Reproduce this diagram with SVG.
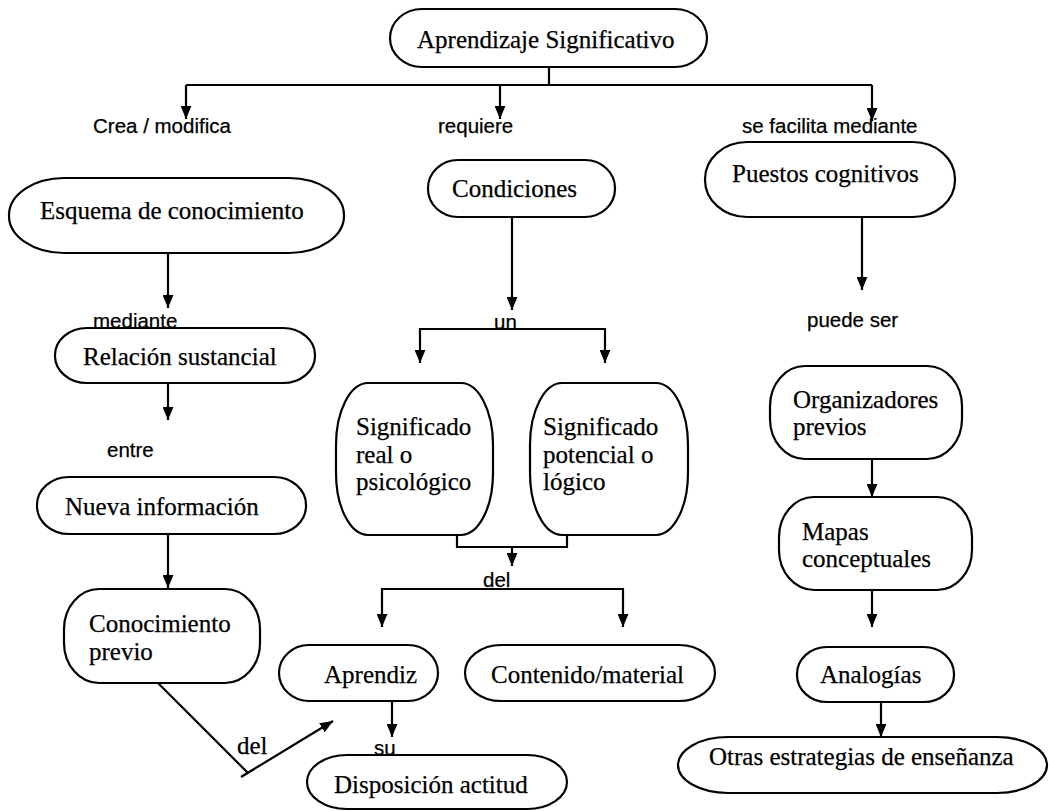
<svg xmlns="http://www.w3.org/2000/svg" width="1049" height="811" viewBox="0 0 1049 811">
<style>
.box{fill:#fff;stroke:#000;stroke-width:2.2}
.t{font-family:"Liberation Serif","Times New Roman",serif;font-size:25px;fill:#000;stroke:#000;stroke-width:0.25}
.l{font-family:"Liberation Sans",Arial,sans-serif;font-size:20.5px;fill:#000;stroke:#000;stroke-width:0.25}
.c{fill:none;stroke:#000;stroke-width:2.2}
</style>
<defs>
<marker id="ah" viewBox="0 0 12 10" refX="12" refY="5" markerWidth="13" markerHeight="11" markerUnits="userSpaceOnUse" orient="auto">
<path d="M0 0 L12 5 L0 10 z" fill="#000"/>
</marker>
</defs>
<rect width="1049" height="811" fill="#fff"/>
<g id="connectors">
<path class="c" d="M549 67 V85 M186 85 H872"/>
<path class="c" d="M186 85 V119" marker-end="url(#ah)"/>
<path class="c" d="M500 85 V119" marker-end="url(#ah)"/>
<path class="c" d="M872 85 V121" marker-end="url(#ah)"/>
<path class="c" d="M168 253 V308" marker-end="url(#ah)"/>
<path class="c" d="M168 383 V420" marker-end="url(#ah)"/>
<path class="c" d="M168 534 V588" marker-end="url(#ah)"/>
<path class="c" d="M158 683 L248 773"/>
<path class="c" d="M241 777 L333 721" marker-end="url(#ah)"/>
<path class="c" d="M512 217 V310" marker-end="url(#ah)"/>
<path class="c" d="M512 329 H420 V363" marker-end="url(#ah)"/>
<path class="c" d="M512 329 H605 V363" marker-end="url(#ah)"/>
<path class="c" d="M457 528 V547 H567 V528"/>
<path class="c" d="M512 547 V566" marker-end="url(#ah)"/>
<path class="c" d="M503 589 H382 V627" marker-end="url(#ah)"/>
<path class="c" d="M503 589 H623 V627" marker-end="url(#ah)"/>
<path class="c" d="M392 701 V737" marker-end="url(#ah)"/>
<path class="c" d="M862 217 V290" marker-end="url(#ah)"/>
<path class="c" d="M872 459 V497" marker-end="url(#ah)"/>
<path class="c" d="M872 590 V627" marker-end="url(#ah)"/>
<path class="c" d="M881 702 V737" marker-end="url(#ah)"/>
</g>
<g id="labels">
<text class="l" x="93" y="133">Crea / modifica</text>
<text class="l" x="438" y="133">requiere</text>
<text class="l" x="742" y="133">se facilita mediante</text>
<text class="l" x="93" y="328">mediante</text>
<text class="l" x="107" y="457">entre</text>
<text class="l" x="494" y="329">un</text>
<text class="l" x="483" y="587">del</text>
<text class="l" x="374" y="755">su</text>
<text class="l" x="807" y="327">puede ser</text>
<text class="t" x="237" y="754">del</text>
</g>
<g id="n-aprendizaje">
<rect class="box" x="390" y="9" width="317" height="58" rx="32" ry="29"/>
<text class="t" x="417" y="48">Aprendizaje Significativo</text>
</g>
<g id="n-esquema">
<rect class="box" x="9" y="178" width="335" height="75" rx="55" ry="37"/>
<text class="t" x="40" y="219">Esquema de conocimiento</text>
</g>
<g id="n-relacion">
<rect class="box" x="55" y="328" width="260" height="55" rx="32" ry="27"/>
<text class="t" x="83" y="365">Relación sustancial</text>
</g>
<g id="n-nueva">
<rect class="box" x="37" y="477" width="269" height="57" rx="32" ry="28"/>
<text class="t" x="65" y="515">Nueva información</text>
</g>
<g id="n-conocimiento">
<rect class="box" x="64" y="589" width="196" height="94" rx="35" ry="40"/>
<text class="t" x="89" y="632">Conocimiento</text>
<text class="t" x="89" y="660">previo</text>
</g>
<g id="n-aprendiz">
<rect class="box" x="279" y="645" width="159" height="56" rx="30" ry="28"/>
<text class="t" x="324" y="683">Aprendiz</text>
</g>
<g id="n-contenido">
<rect class="box" x="465" y="645" width="250" height="56" rx="36" ry="28"/>
<text class="t" x="491" y="683">Contenido/material</text>
</g>
<g id="n-disposicion">
<rect class="box" x="307" y="755" width="260" height="54" rx="40" ry="27"/>
<text class="t" x="334" y="793">Disposición actitud</text>
</g>
<g id="n-condiciones">
<rect class="box" x="428" y="160" width="187" height="57" rx="30" ry="28"/>
<text class="t" x="452" y="197">Condiciones</text>
</g>
<g id="n-sig-real">
<rect class="box" x="336" y="383" width="157" height="152" rx="32" ry="62"/>
<text class="t" x="356" y="435">Significado</text>
<text class="t" x="356" y="463">real o</text>
<text class="t" x="356" y="490">psicológico</text>
</g>
<g id="n-sig-potencial">
<rect class="box" x="530" y="383" width="158" height="152" rx="32" ry="62"/>
<text class="t" x="543" y="435">Significado</text>
<text class="t" x="543" y="463">potencial o</text>
<text class="t" x="543" y="490">lógico</text>
</g>
<g id="n-puestos">
<rect class="box" x="705" y="142" width="250" height="75" rx="42" ry="37"/>
<text class="t" x="732" y="182">Puestos cognitivos</text>
</g>
<g id="n-organizadores">
<rect class="box" x="770" y="366" width="192" height="93" rx="35" ry="40"/>
<text class="t" x="793" y="408">Organizadores</text>
<text class="t" x="793" y="435">previos</text>
</g>
<g id="n-mapas">
<rect class="box" x="779" y="497" width="193" height="93" rx="35" ry="40"/>
<text class="t" x="802" y="540">Mapas</text>
<text class="t" x="802" y="567">conceptuales</text>
</g>
<g id="n-analogias">
<rect class="box" x="797" y="647" width="157" height="55" rx="30" ry="27"/>
<text class="t" x="820" y="683">Analogías</text>
</g>
<g id="n-otras">
<rect class="box" x="678" y="737" width="369" height="56" rx="50" ry="28"/>
<text class="t" x="709" y="765">Otras estrategias de enseñanza</text>
</g>
</svg>
